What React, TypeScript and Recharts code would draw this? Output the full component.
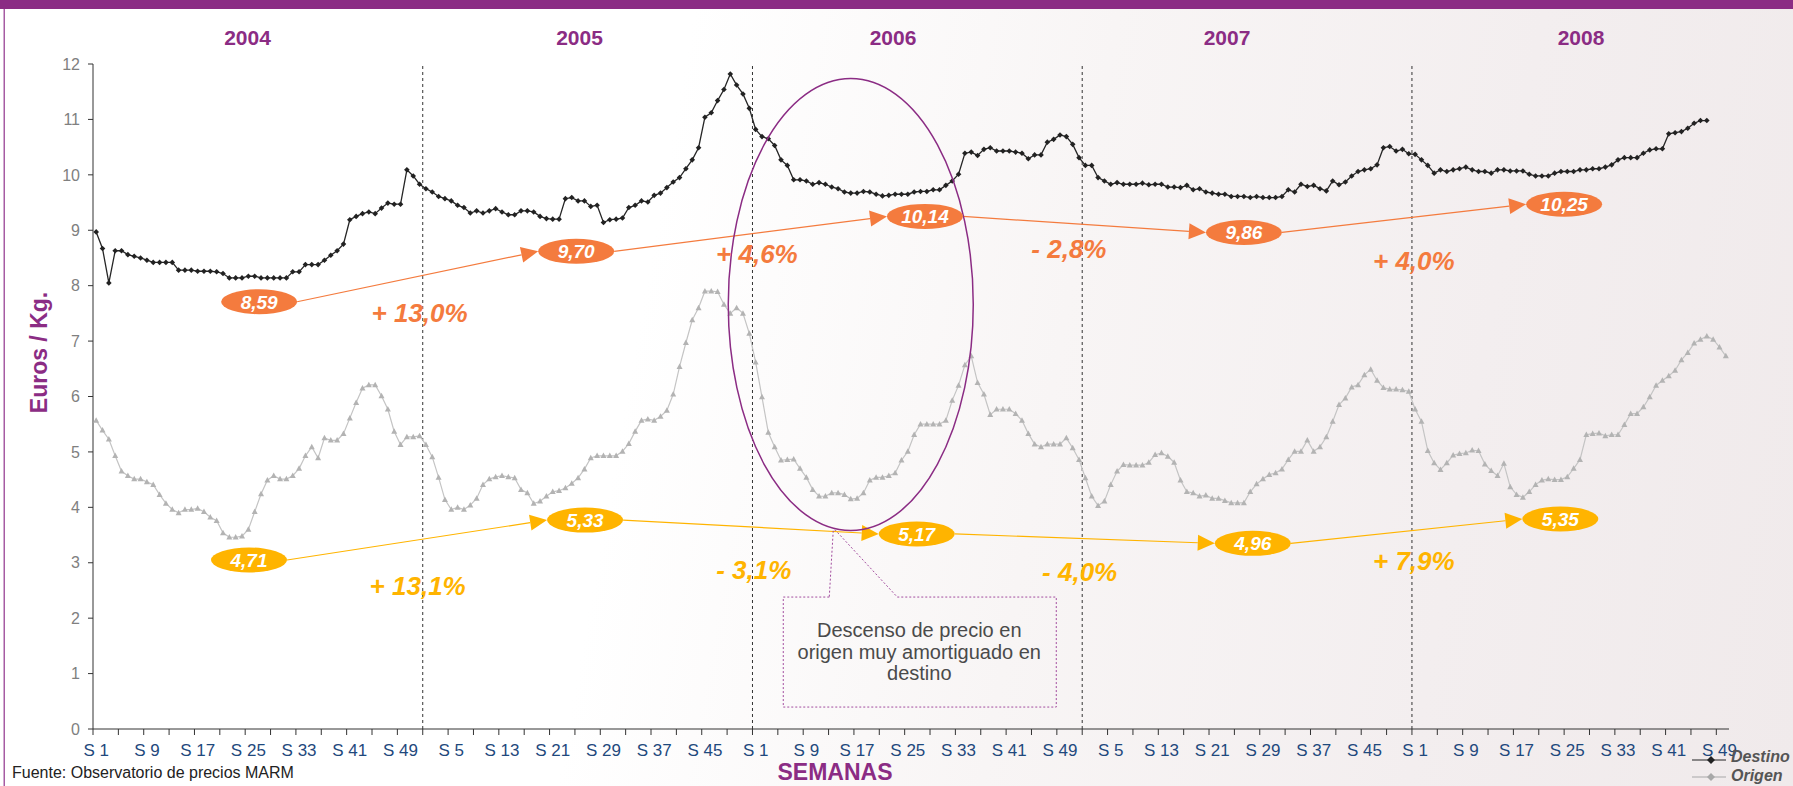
import React from 'react';
import { LineChart, Line, XAxis, YAxis, ReferenceLine, ReferenceDot } from 'recharts';

const W = 1793;
const H = 786;
const MARGIN = { top: 64, right: 64, left: 33, bottom: 17 };
const Y_AXIS_W = 60;
const X_AXIS_H = 40;
const FONT = "'Liberation Sans', Arial, sans-serif";

const PURPLE = '#8B2C84';
const ORANGE = '#F47B3E';
const YELLOW = '#FFB400';
const NAVY = '#1F497D';

const years = [2004, 2005, 2006, 2007, 2008];
const weeksPerYear = [52, 52, 52, 52, 50];

// precio medio semanal en destino (€/kg)
const destino2004 = [
  8.97, 8.67, 8.05, 8.63, 8.63, 8.56, 8.53, 8.5, 8.46, 8.42, 8.42, 8.42, 8.42,
  8.28, 8.28, 8.28, 8.26, 8.26, 8.26, 8.25, 8.22, 8.14, 8.14, 8.14, 8.17, 8.17,
  8.14, 8.14, 8.14, 8.14, 8.14, 8.25, 8.25, 8.38, 8.38, 8.38, 8.46, 8.55, 8.63,
  8.75, 9.19, 9.25, 9.3, 9.33, 9.3, 9.4, 9.49, 9.47, 9.47, 10.09, 9.98, 9.83,
];
const destino2005 = [
  9.75, 9.69, 9.61, 9.57, 9.53, 9.45, 9.41, 9.31, 9.35, 9.31, 9.35, 9.39, 9.33,
  9.28, 9.28, 9.35, 9.35, 9.33, 9.25, 9.21, 9.2, 9.2, 9.57, 9.59, 9.53, 9.53,
  9.43, 9.45, 9.14, 9.19, 9.2, 9.22, 9.41, 9.45, 9.53, 9.51, 9.63, 9.67, 9.77,
  9.87, 9.95, 10.11, 10.27, 10.49, 11.04, 11.12, 11.34, 11.54, 11.82, 11.62, 11.46, 11.2,
];
const destino2006 = [
  10.82, 10.69, 10.65, 10.53, 10.27, 10.17, 9.91, 9.91, 9.89, 9.83, 9.86, 9.83, 9.78,
  9.75, 9.69, 9.67, 9.67, 9.7, 9.69, 9.65, 9.62, 9.63, 9.65, 9.65, 9.65, 9.69,
  9.7, 9.7, 9.73, 9.73, 9.81, 9.89, 10.01, 10.39, 10.41, 10.35, 10.46, 10.49, 10.43,
  10.43, 10.43, 10.41, 10.39, 10.29, 10.36, 10.36, 10.59, 10.64, 10.72, 10.69, 10.55, 10.31,
];
const destino2007 = [
  10.17, 10.17, 9.95, 9.89, 9.83, 9.86, 9.83, 9.83, 9.83, 9.85, 9.82, 9.83, 9.83,
  9.78, 9.78, 9.77, 9.81, 9.73, 9.75, 9.69, 9.67, 9.65, 9.65, 9.61, 9.61, 9.61,
  9.59, 9.61, 9.59, 9.59, 9.59, 9.61, 9.73, 9.69, 9.83, 9.79, 9.81, 9.75, 9.71,
  9.89, 9.82, 9.87, 9.98, 10.06, 10.09, 10.11, 10.18, 10.49, 10.51, 10.43, 10.46, 10.38,
];
const destino2008 = [
  10.37, 10.27, 10.17, 10.03, 10.09, 10.06, 10.09, 10.11, 10.14, 10.09, 10.06, 10.06,
  10.03, 10.09, 10.09, 10.07, 10.07, 10.07, 10.01, 9.98, 9.98, 9.98, 10.03, 10.06,
  10.06, 10.06, 10.09, 10.09, 10.11, 10.11, 10.14, 10.18, 10.27, 10.31, 10.31, 10.31,
  10.39, 10.45, 10.47, 10.47, 10.74, 10.76, 10.78, 10.84, 10.93, 10.98, 10.98,
];

// precio medio semanal en origen (€/kg)
const origen2004 = [
  5.57, 5.39, 5.23, 4.93, 4.65, 4.57, 4.51, 4.51, 4.46, 4.41, 4.23, 4.07, 3.96,
  3.9, 3.96, 3.96, 3.98, 3.92, 3.82, 3.76, 3.54, 3.46, 3.46, 3.48, 3.6, 3.92,
  4.24, 4.49, 4.57, 4.51, 4.51, 4.57, 4.7, 4.93, 5.09, 4.89, 5.25, 5.21, 5.21,
  5.33, 5.61, 5.89, 6.15, 6.21, 6.21, 6.01, 5.77, 5.37, 5.13, 5.27, 5.27, 5.29,
];
const origen2005 = [
  5.13, 4.91, 4.54, 4.14, 3.96, 4.0, 3.96, 4.04, 4.16, 4.41, 4.51, 4.55, 4.57,
  4.55, 4.53, 4.32, 4.26, 4.07, 4.11, 4.2, 4.28, 4.3, 4.35, 4.43, 4.53, 4.69,
  4.89, 4.93, 4.93, 4.93, 4.93, 5.01, 5.15, 5.37, 5.57, 5.59, 5.57, 5.64, 5.75,
  6.04, 6.54, 6.97, 7.38, 7.6, 7.9, 7.9, 7.89, 7.66, 7.5, 7.6, 7.5, 7.14,
];
const origen2006 = [
  6.62, 5.99, 5.35, 5.09, 4.85, 4.86, 4.87, 4.7, 4.54, 4.32, 4.2, 4.2, 4.26,
  4.26, 4.23, 4.15, 4.16, 4.26, 4.49, 4.54, 4.54, 4.57, 4.62, 4.85, 5.01, 5.31,
  5.5, 5.5, 5.5, 5.5, 5.57, 5.93, 6.2, 6.57, 6.73, 6.25, 6.04, 5.67, 5.77,
  5.77, 5.77, 5.69, 5.57, 5.33, 5.14, 5.09, 5.14, 5.14, 5.14, 5.25, 5.07, 4.86,
];
const origen2007 = [
  4.53, 4.2, 4.03, 4.11, 4.41, 4.65, 4.77, 4.76, 4.76, 4.76, 4.81, 4.95, 4.98,
  4.92, 4.81, 4.49, 4.28, 4.26, 4.2, 4.22, 4.16, 4.16, 4.12, 4.08, 4.08, 4.08,
  4.28, 4.42, 4.51, 4.59, 4.62, 4.69, 4.86, 5.01, 5.01, 5.21, 5.01, 5.09, 5.27,
  5.55, 5.85, 5.97, 6.17, 6.21, 6.39, 6.49, 6.29, 6.16, 6.13, 6.13, 6.12, 6.09,
];
const origen2008 = [
  5.77, 5.55, 5.02, 4.8, 4.68, 4.8, 4.94, 4.97, 4.98, 5.03, 5.02, 4.78, 4.66,
  4.57, 4.79, 4.37, 4.23, 4.18, 4.28, 4.41, 4.49, 4.51, 4.5, 4.5, 4.55, 4.7,
  4.86, 5.31, 5.33, 5.34, 5.29, 5.31, 5.31, 5.49, 5.69, 5.69, 5.81, 5.99, 6.2,
  6.29, 6.37, 6.47, 6.66, 6.79, 6.96, 7.03, 7.09, 7.03, 6.89, 6.73,
];

const destino = [...destino2004, ...destino2005, ...destino2006, ...destino2007, ...destino2008];
const origen = [...origen2004, ...origen2005, ...origen2006, ...origen2007, ...origen2008];

// medias anuales y variaciones
const destinoAvg = ['8,59', '9,70', '10,14', '9,86', '10,25'];
const origenAvg = ['4,71', '5,33', '5,17', '4,96', '5,35'];
const destinoChange = ['+ 13,0%', '+ 4,6%', '- 2,8%', '+ 4,0%'];
const origenChange = ['+ 13,1%', '- 3,1%', '- 4,0%', '+ 7,9%'];

// where the callouts sit, as [week index, €/kg]
const destinoAvgAt = [[25.7, 7.71], [75.7, 8.62], [130.7, 9.25], [181.0, 8.96], [231.5, 9.47]];
const origenAvgAt = [[24.1, 3.05], [77.1, 3.77], [129.4, 3.52], [182.4, 3.35], [230.9, 3.79]];
const destinoChangeAt = [[51.0, 7.51], [104.2, 8.57], [153.4, 8.66], [207.8, 8.44]];
const origenChangeAt = [[50.7, 2.58], [103.7, 2.87], [155.1, 2.83], [207.8, 3.03]];
const circleAt = [119.0, 7.66];
const noteAt = [116.4, 3.59];
const noteLines = ['Descenso de precio en', 'origen muy amortiguado en', 'destino'];

const weekLabels: string[] = [];
weeksPerYear.forEach((n) => {
  for (let w = 1; w <= n; w++) weekLabels.push(`S ${w}`);
});
const N = weekLabels.length;

const data = weekLabels.map((label, i) => ({
  idx: i,
  label,
  destino: i < destino.length ? destino[i] : null,
  origen: i < origen.length ? origen[i] : null,
}));

const yearStarts: number[] = [];
weeksPerYear.reduce((acc, n) => {
  yearStarts.push(acc);
  return acc + n;
}, 0);

const xTicks = weekLabels.map((_, i) => i).filter((i) => i % 4 === 0);
const yTicks = Array.from({ length: 13 }, (_, i) => i);

const PLOT_W = W - MARGIN.left - Y_AXIS_W - MARGIN.right;
const HALF_BAND = PLOT_W / N / 2;
const PILL_RX = 38;
const PILL_RY = 12.5;

function WeekTick(props: any) {
  const { x, y, payload } = props;
  const i = payload.value as number;
  const bx = x - HALF_BAND;
  return (
    <g>
      <line x1={bx} y1={y} x2={bx} y2={y + 6} stroke="#333" strokeWidth={1} />
      {i % 8 === 0 && (
        <text x={x} y={y + 27} textAnchor="middle" fontSize={17} fill={NAVY} fontFamily={FONT}>
          {weekLabels[i]}
        </text>
      )}
    </g>
  );
}

const diamondDot = (props: any) => {
  const { cx, cy, index } = props;
  if (cx == null || cy == null) return <g key={`d${index}`} />;
  const s = 2.8;
  return (
    <path
      key={`d${index}`}
      d={`M${cx},${cy - s} L${cx + s},${cy} L${cx},${cy + s} L${cx - s},${cy} Z`}
      fill="#222"
    />
  );
};

const triangleDot = (props: any) => {
  const { cx, cy, index } = props;
  if (cx == null || cy == null) return <g key={`t${index}`} />;
  return (
    <path
      key={`t${index}`}
      d={`M${cx},${cy - 3.2} L${cx + 3},${cy + 2.3} L${cx - 3},${cy + 2.3} Z`}
      fill="#b3b3b3"
    />
  );
};

const pill = (text: string, color: string) => (p: any) => (
  <g>
    <ellipse cx={p.cx} cy={p.cy} rx={PILL_RX} ry={PILL_RY} fill={color} />
    <text
      x={p.cx}
      y={p.cy + 7}
      textAnchor="middle"
      fontSize={19}
      fontWeight="bold"
      fontStyle="italic"
      fill="#fff"
      fontFamily={FONT}
    >
      {text}
    </text>
  </g>
);

const changeText = (text: string, color: string) => (p: any) => (
  <text
    x={p.cx}
    y={p.cy + 9}
    textAnchor="middle"
    fontSize={26}
    fontWeight="bold"
    fontStyle="italic"
    fill={color}
    fontFamily={FONT}
  >
    {text}
  </text>
);

const connector = (color: string) => (p: any) => {
  const { x1, y1, x2, y2 } = p;
  const sx = x1 + PILL_RX;
  const ex = x2 - PILL_RX;
  const dx = ex - sx;
  const dy = y2 - y1;
  const len = Math.hypot(dx, dy) || 1;
  const ux = dx / len;
  const uy = dy / len;
  const bx = ex - ux * 17;
  const by = y2 - uy * 17;
  const px = -uy * 8;
  const py = ux * 8;
  return (
    <g>
      <line x1={sx} y1={y1} x2={bx} y2={by} stroke={color} strokeWidth={1.2} />
      <path d={`M${ex},${y2} L${bx + px},${by + py} L${bx - px},${by - py} Z`} fill={color} />
    </g>
  );
};

const bigCircle = (p: any) => (
  <ellipse cx={p.cx} cy={p.cy} rx={122.5} ry={226} fill="none" stroke={PURPLE} strokeWidth={1.5} />
);

const note = (p: any) => {
  const { cx, cy } = p;
  const left = cx - 51;
  const right = cx + 222;
  const top = cy + 67;
  const bottom = cy + 177;
  const d = `M${cx - 5},${top} L${left},${top} L${left},${bottom} L${right},${bottom} L${right},${top} L${cx + 63},${top} L${cx + 1},${cy} L${cx - 1},${cy} Z`;
  return (
    <g>
      <path d={d} fill="none" stroke="#A24C9E" strokeWidth={1} strokeDasharray="2 2" />
      {noteLines.map((t, k) => (
        <text
          key={t}
          x={cx + 85}
          y={cy + 107 + k * 21.5}
          textAnchor="middle"
          fontSize={20}
          fill="#4a4a4a"
          fontFamily={FONT}
        >
          {t}
        </text>
      ))}
    </g>
  );
};

const yearLabelX = [247.5, 579.5, 893, 1227, 1581];

export default function App() {
  return (
    <div
      style={{
        position: 'absolute',
        left: 0,
        top: 0,
        width: W,
        height: H,
        overflow: 'hidden',
        fontFamily: FONT,
        background:
          'linear-gradient(100deg, #ffffff 0%, #ffffff 36%, #f8f5f5 58%, #f3eeef 80%, #f0eaeb 100%)',
      }}
    >
      <LineChart width={W} height={H} data={data} margin={MARGIN}>
        <XAxis
          dataKey="idx"
          type="number"
          domain={[-0.5, N - 0.5]}
          ticks={xTicks}
          interval={0}
          tick={(p: any) => <WeekTick {...p} />}
          tickLine={false}
          tickSize={0}
          tickMargin={0}
          height={X_AXIS_H}
          axisLine={{ stroke: '#333', strokeWidth: 1 }}
          allowDataOverflow
        />
        <YAxis
          domain={[0, 12]}
          ticks={yTicks}
          interval={0}
          width={Y_AXIS_W}
          tickSize={5}
          tickMargin={8}
          axisLine={{ stroke: '#333', strokeWidth: 1 }}
          tickLine={{ stroke: '#333' }}
          tick={{ fill: '#808080', fontSize: 16, fontFamily: FONT }}
        />
        {yearStarts.slice(1).map((s) => (
          <ReferenceLine key={s} x={s - 0.5} stroke="#333" strokeDasharray="3 3" strokeWidth={1} />
        ))}

        {destinoAvgAt.slice(1).map((b, k) => (
          <ReferenceLine
            key={`dc${k}`}
            segment={[
              { x: destinoAvgAt[k][0], y: destinoAvgAt[k][1] },
              { x: b[0], y: b[1] },
            ]}
            ifOverflow="visible"
            shape={connector(ORANGE)}
          />
        ))}
        {origenAvgAt.slice(1).map((b, k) => (
          <ReferenceLine
            key={`oc${k}`}
            segment={[
              { x: origenAvgAt[k][0], y: origenAvgAt[k][1] },
              { x: b[0], y: b[1] },
            ]}
            ifOverflow="visible"
            shape={connector(YELLOW)}
          />
        ))}

        <Line
          dataKey="origen"
          name="Origen"
          stroke="#c4c4c4"
          strokeWidth={1.2}
          dot={triangleDot}
          activeDot={false}
          isAnimationActive={false}
        />
        <Line
          dataKey="destino"
          name="Destino"
          stroke="#262626"
          strokeWidth={1.3}
          dot={diamondDot}
          activeDot={false}
          isAnimationActive={false}
        />

        <ReferenceDot x={circleAt[0]} y={circleAt[1]} r={0} ifOverflow="visible" shape={bigCircle} />
        <ReferenceDot x={noteAt[0]} y={noteAt[1]} r={0} ifOverflow="visible" shape={note} />

        {destinoAvgAt.map((a, k) => (
          <ReferenceDot key={`da${k}`} x={a[0]} y={a[1]} r={0} ifOverflow="visible" shape={pill(destinoAvg[k], ORANGE)} />
        ))}
        {origenAvgAt.map((a, k) => (
          <ReferenceDot key={`oa${k}`} x={a[0]} y={a[1]} r={0} ifOverflow="visible" shape={pill(origenAvg[k], YELLOW)} />
        ))}
        {destinoChangeAt.map((a, k) => (
          <ReferenceDot key={`dv${k}`} x={a[0]} y={a[1]} r={0} ifOverflow="visible" shape={changeText(destinoChange[k], ORANGE)} />
        ))}
        {origenChangeAt.map((a, k) => (
          <ReferenceDot key={`ov${k}`} x={a[0]} y={a[1]} r={0} ifOverflow="visible" shape={changeText(origenChange[k], YELLOW)} />
        ))}
      </LineChart>

      <svg
        width={W}
        height={H}
        style={{ position: 'absolute', left: 0, top: 0, pointerEvents: 'none' }}
      >
        <rect x={0} y={0} width={W} height={9} fill={PURPLE} />
        <rect x={3.5} y={9} width={1.5} height={H - 9} fill="#A65CA3" />
        {years.map((y, k) => (
          <text
            key={y}
            x={yearLabelX[k]}
            y={45}
            textAnchor="middle"
            fontSize={21}
            fontWeight="bold"
            fill={PURPLE}
            fontFamily={FONT}
          >
            {y}
          </text>
        ))}
        <text
          transform="translate(38.5,352.5) rotate(-90)"
          textAnchor="middle"
          dy={8}
          fontSize={23}
          fontWeight="bold"
          fill={PURPLE}
          fontFamily={FONT}
        >
          Euros / Kg.
        </text>
        <text x={835} y={780} textAnchor="middle" fontSize={23} fontWeight="bold" fill={PURPLE} fontFamily={FONT}>
          SEMANAS
        </text>
        <text x={12} y={778} fontSize={16} fill="#222" fontFamily={FONT}>
          Fuente: Observatorio de precios MARM
        </text>
        <line x1={1692} y1={760} x2={1726} y2={760} stroke="#222" strokeWidth={1.2} />
        <path d="M1711,756 L1715,760 L1711,764 L1707,760 Z" fill="#222" />
        <text x={1731} y={762} fontSize={16} fontWeight="bold" fontStyle="italic" fill="#555" fontFamily={FONT}>
          Destino
        </text>
        <line x1={1692} y1={777} x2={1726} y2={777} stroke="#a8a8a8" strokeWidth={1.2} />
        <path d="M1711,773 L1715,777 L1711,781 L1707,777 Z" fill="#a8a8a8" />
        <text x={1731} y={781} fontSize={16} fontWeight="bold" fontStyle="italic" fill="#555" fontFamily={FONT}>
          Origen
        </text>
      </svg>
    </div>
  );
}
